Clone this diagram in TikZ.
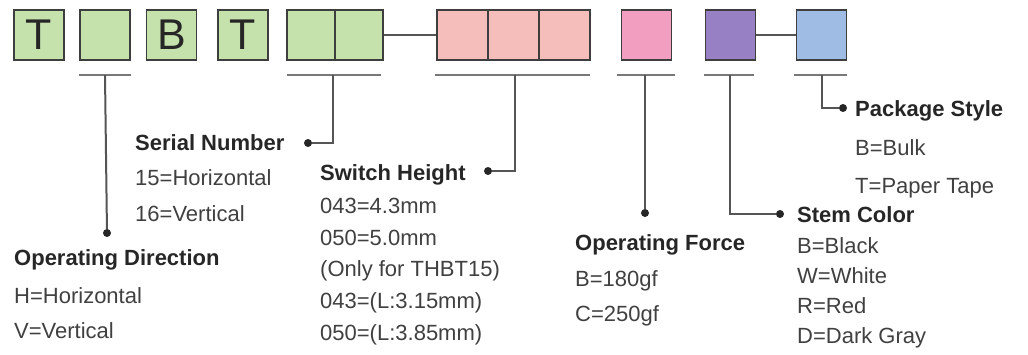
\documentclass[tikz,border=0pt]{standalone}
\usepackage{fontspec}
\setmainfont{Liberation Sans}
\usetikzlibrary{calc}

\definecolor{cellgreen}{RGB}{198,226,172}
\definecolor{cellsalmon}{RGB}{246,190,186}
\definecolor{cellpink}{RGB}{241,158,192}
\definecolor{cellpurple}{RGB}{152,128,196}
\definecolor{cellblue}{RGB}{158,188,228}
\definecolor{boxline}{RGB}{62,62,62}
\definecolor{leadgray}{RGB}{85,85,85}
\definecolor{bargray}{RGB}{120,120,120}

\tikzset{
  cell/.style={draw=boxline, line width=1.8pt, minimum width=50pt, minimum height=50pt,
    inner sep=0pt, text=black!85, font=\fontsize{43}{43}\selectfont},
  grncell/.style={cell, fill=cellgreen},
  lead/.style={draw=leadgray, line width=2pt},
  bar/.style={draw=bargray, line width=2.4pt},
  dot/.style={circle, fill=black!85, inner sep=0pt, minimum size=8pt},
  title/.style={anchor=base west, inner sep=0pt, text=black!85,
    font=\fontsize{22}{26}\selectfont\bfseries},
  item/.style={anchor=base west, inner sep=0pt, text=black!75,
    font=\fontsize{22}{26}\selectfont}
}

\begin{document}
\begin{tikzpicture}[x=1pt, y=-1pt]
\useasboundingbox (0,0) rectangle (1028,354);

% code cells
\node[grncell] (c1) at (39,35) {T};
\node[grncell] (c2) at (105,35) {};
\node[grncell] (c3) at (171.5,35) {B};
\node[grncell] (c4) at (243,35) {T};
\node[grncell, minimum width=48pt] (h1) at (311,35) {};
\node[grncell, minimum width=48pt] (h2) at (359,35) {};
\node[cell, fill=cellsalmon, minimum width=51pt] (s1) at (462.5,35) {};
\node[cell, fill=cellsalmon, minimum width=51pt] (s2) at (513.5,35) {};
\node[cell, fill=cellsalmon, minimum width=51pt] (s3) at (564.5,35) {};
\node[cell, fill=cellpink] (f1) at (646.5,35) {};
\node[cell, fill=cellpurple] (k1) at (730.5,35) {};
\node[cell, fill=cellblue] (p1) at (821.5,35) {};
\draw[lead] (h2) -- (s1);
\draw[lead] (k1) -- (p1);

% underlines
\coordinate (u1) at (105,75);
\coordinate (u2) at (333,75);
\coordinate (u3) at (515,75);
\coordinate (u4) at (645,75);
\coordinate (u5) at (730,75);
\coordinate (u6) at (822,75);
\draw[bar] (79,75) -- (131,75);
\draw[bar] (287,75) -- (381,75);
\draw[bar] (435,75) -- (590,75);
\draw[bar] (617,75) -- (675,75);
\draw[bar] (704,75) -- (754,75);
\draw[bar] (794,75) -- (847,75);

% dots
\node[dot] (d1) at (107,233) {};
\node[dot] (d2) at (308,143) {};
\node[dot] (d3) at (488,171) {};
\node[dot] (d4) at (645,213) {};
\node[dot] (d5) at (780,214) {};
\node[dot] (d6) at (843,108) {};

\draw[lead] (u1) -- (d1);
\draw[lead] (u2) |- (d2);
\draw[lead] (u3) |- (d3);
\draw[lead] (u4) -- (d4);
\draw[lead] (u5) |- (d5);
\draw[lead] (u6) |- (d6);

% operating direction
\node[title] (dir) at (14,265) {Operating Direction};
\node[item] (dirh) at (14,303) {H=Horizontal};
\node[item] (dirv) at (14,338) {V=Vertical};

% serial number
\node[title] (ser) at (135,150) {Serial Number};
\node[item] (ser15) at (135,185) {15=Horizontal};
\node[item] (ser16) at (135,221) {16=Vertical};

% switch height
\node[title] (hgt) at (320,180) {Switch Height};
\node[item] (hgta) at (320,213) {043=4.3mm};
\node[item] (hgtb) at (320,245) {050=5.0mm};
\node[item] (hgtc) at (320,276) {(Only for THBT15)};
\node[item] (hgtd) at (320,308) {043=(L:3.15mm)};
\node[item] (hgte) at (320,340) {050=(L:3.85mm)};

% operating force
\node[title] (frc) at (575,250) {Operating Force};
\node[item] (frcb) at (575,286) {B=180gf};
\node[item] (frcc) at (575,321) {C=250gf};

% stem color
\node[title] (stm) at (797,222) {Stem Color};
\node[item] (stmb) at (797,253) {B=Black};
\node[item] (stmw) at (797,283) {W=White};
\node[item] (stmr) at (797,313) {R=Red};
\node[item] (stmd) at (797,343) {D=Dark Gray};

% package style
\node[title] (pkg) at (855,116) {Package Style};
\node[item] (pkgb) at (855,155) {B=Bulk};
\node[item] (pkgt) at (855,193) {T=Paper Tape};
\end{tikzpicture}
\end{document}
